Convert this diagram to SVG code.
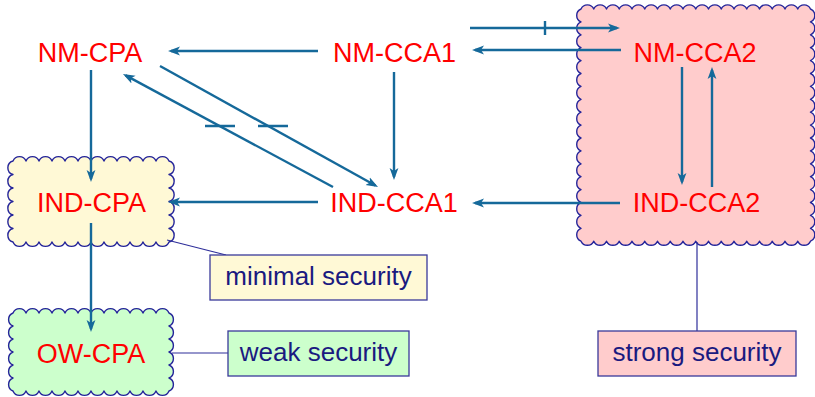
<svg xmlns="http://www.w3.org/2000/svg" width="815" height="397" viewBox="0 0 815 397">
  <style>
    .node { font-family: "Liberation Sans", Arial, sans-serif; font-size: 27px; fill: #ff0000; text-anchor: middle; }
    .label { font-family: "Liberation Sans", Arial, sans-serif; font-size: 26px; fill: #1a1a80; text-anchor: middle; }
    .cloud { stroke: #25259a; stroke-width: 1.4; stroke-linejoin: round; }
    .box { stroke: #3a3a9a; stroke-width: 1.3; }
    .arrow { stroke: #15699a; stroke-width: 2.4; fill: none; marker-end: url(#head); }
    .tick { stroke: #15699a; stroke-width: 2.4; fill: none; }
    .thin { stroke: #2e2e9a; stroke-width: 1.2; fill: none; }
    .yellow { fill: #fff9d6; }
    .green { fill: #ccffcc; }
    .pink { fill: #ffcccc; }
  </style>
  <defs>
    <marker id="head" markerUnits="userSpaceOnUse" viewBox="0 0 12 10" refX="9" refY="5" markerWidth="12" markerHeight="10" orient="auto">
      <path d="M0,0.6 L12,5 L0,9.4 L3,5 Z" fill="#15699a"/>
    </marker>
  </defs>

  <!-- scalloped regions -->
  <g id="region-strong">
    <path class="cloud pink" d="M581,9
      a7 7 0 0 1 12.75 0 a7 7 0 0 1 12.75 0 a7 7 0 0 1 12.75 0 a7 7 0 0 1 12.75 0 a7 7 0 0 1 12.75 0 a7 7 0 0 1 12.75 0
      a7 7 0 0 1 12.75 0 a7 7 0 0 1 12.75 0 a7 7 0 0 1 12.75 0 a7 7 0 0 1 12.75 0 a7 7 0 0 1 12.75 0 a7 7 0 0 1 12.75 0
      a7 7 0 0 1 12.75 0 a7 7 0 0 1 12.75 0 a7 7 0 0 1 12.75 0 a7 7 0 0 1 12.75 0 a7 7 0 0 1 12.75 0 a7 7 0 0 1 12.75 0
      a7 7 0 0 1 0 12.9 a7 7 0 0 1 0 12.9 a7 7 0 0 1 0 12.9 a7 7 0 0 1 0 12.9 a7 7 0 0 1 0 12.9 a7 7 0 0 1 0 12.9
      a7 7 0 0 1 0 12.9 a7 7 0 0 1 0 12.9 a7 7 0 0 1 0 12.9 a7 7 0 0 1 0 12.9 a7 7 0 0 1 0 12.9 a7 7 0 0 1 0 12.9
      a7 7 0 0 1 0 12.9 a7 7 0 0 1 0 12.9 a7 7 0 0 1 0 12.9 a7 7 0 0 1 0 12.9 a7 7 0 0 1 0 12.9 a7 7 0 0 1 0 12.9
      a7 7 0 0 1 -12.75 0 a7 7 0 0 1 -12.75 0 a7 7 0 0 1 -12.75 0 a7 7 0 0 1 -12.75 0 a7 7 0 0 1 -12.75 0 a7 7 0 0 1 -12.75 0
      a7 7 0 0 1 -12.75 0 a7 7 0 0 1 -12.75 0 a7 7 0 0 1 -12.75 0 a7 7 0 0 1 -12.75 0 a7 7 0 0 1 -12.75 0 a7 7 0 0 1 -12.75 0
      a7 7 0 0 1 -12.75 0 a7 7 0 0 1 -12.75 0 a7 7 0 0 1 -12.75 0 a7 7 0 0 1 -12.75 0 a7 7 0 0 1 -12.75 0 a7 7 0 0 1 -12.75 0
      a7 7 0 0 1 0 -12.9 a7 7 0 0 1 0 -12.9 a7 7 0 0 1 0 -12.9 a7 7 0 0 1 0 -12.9 a7 7 0 0 1 0 -12.9 a7 7 0 0 1 0 -12.9
      a7 7 0 0 1 0 -12.9 a7 7 0 0 1 0 -12.9 a7 7 0 0 1 0 -12.9 a7 7 0 0 1 0 -12.9 a7 7 0 0 1 0 -12.9 a7 7 0 0 1 0 -12.9
      a7 7 0 0 1 0 -12.9 a7 7 0 0 1 0 -12.9 a7 7 0 0 1 0 -12.9 a7 7 0 0 1 0 -12.9 a7 7 0 0 1 0 -12.9 a7 7 0 0 1 0 -12.9 Z"/>
  </g>

  <g id="region-minimal">
    <path class="cloud yellow" d="M13,161
      a7 7 0 0 1 13 0 a7 7 0 0 1 13 0 a7 7 0 0 1 13 0 a7 7 0 0 1 13 0 a7 7 0 0 1 13 0 a7 7 0 0 1 13 0
      a7 7 0 0 1 13 0 a7 7 0 0 1 13 0 a7 7 0 0 1 13 0 a7 7 0 0 1 13 0 a7 7 0 0 1 13 0 a7 7 0 0 1 13 0
      a7 7 0 0 1 0 13.5 a7 7 0 0 1 0 13.5 a7 7 0 0 1 0 13.5 a7 7 0 0 1 0 13.5 a7 7 0 0 1 0 13.5 a7 7 0 0 1 0 13.5
      a7 7 0 0 1 -13 0 a7 7 0 0 1 -13 0 a7 7 0 0 1 -13 0 a7 7 0 0 1 -13 0 a7 7 0 0 1 -13 0 a7 7 0 0 1 -13 0
      a7 7 0 0 1 -13 0 a7 7 0 0 1 -13 0 a7 7 0 0 1 -13 0 a7 7 0 0 1 -13 0 a7 7 0 0 1 -13 0 a7 7 0 0 1 -13 0
      a7 7 0 0 1 0 -13.5 a7 7 0 0 1 0 -13.5 a7 7 0 0 1 0 -13.5 a7 7 0 0 1 0 -13.5 a7 7 0 0 1 0 -13.5 a7 7 0 0 1 0 -13.5 Z"/>
  </g>

  <g id="region-weak">
    <path class="cloud green" d="M13,313
      a7 7 0 0 1 13 0 a7 7 0 0 1 13 0 a7 7 0 0 1 13 0 a7 7 0 0 1 13 0 a7 7 0 0 1 13 0 a7 7 0 0 1 13 0
      a7 7 0 0 1 13 0 a7 7 0 0 1 13 0 a7 7 0 0 1 13 0 a7 7 0 0 1 13 0 a7 7 0 0 1 13 0 a7 7 0 0 1 13 0
      a7 7 0 0 1 0 13 a7 7 0 0 1 0 13 a7 7 0 0 1 0 13 a7 7 0 0 1 0 13 a7 7 0 0 1 0 13 a7 7 0 0 1 0 13
      a7 7 0 0 1 -13 0 a7 7 0 0 1 -13 0 a7 7 0 0 1 -13 0 a7 7 0 0 1 -13 0 a7 7 0 0 1 -13 0 a7 7 0 0 1 -13 0
      a7 7 0 0 1 -13 0 a7 7 0 0 1 -13 0 a7 7 0 0 1 -13 0 a7 7 0 0 1 -13 0 a7 7 0 0 1 -13 0 a7 7 0 0 1 -13 0
      a7 7 0 0 1 0 -13 a7 7 0 0 1 0 -13 a7 7 0 0 1 0 -13 a7 7 0 0 1 0 -13 a7 7 0 0 1 0 -13 a7 7 0 0 1 0 -13 Z"/>
  </g>

  <!-- connectors -->
  <g id="connectors">
    <path class="arrow" d="M318,51 H171"/>
    <path class="arrow" d="M470,28 H617"/>
    <path class="tick" d="M545,21 V35"/>
    <path class="arrow" d="M621,50 H475"/>
    <path class="arrow" d="M91,70 V179"/>
    <path class="arrow" d="M91,223 V329"/>
    <path class="arrow" d="M318,202 H171"/>
    <path class="arrow" d="M394,72 V177"/>
    <path class="arrow" d="M160,66 L375.4,185.5"/>
    <path class="arrow" d="M333,187 L125.6,75.4"/>
    <path class="tick" d="M205,126 H235 M258,126 H288"/>
    <path class="arrow" d="M620,203 H475"/>
    <path class="arrow" d="M682,67 V182"/>
    <path class="arrow" d="M712,187 V70"/>
    <!-- annotation leaders -->
    <path class="thin" d="M167,240 L226,255"/>
    <path class="thin" d="M172,353 H228"/>
    <path class="thin" d="M697,242 V331"/>
  </g>

  <!-- scheme nodes -->
  <g id="nm-cpa"><text class="node" x="90" y="62">NM-CPA</text></g>
  <g id="nm-cca1"><text class="node" x="394.5" y="62">NM-CCA1</text></g>
  <g id="nm-cca2"><text class="node" x="695" y="62">NM-CCA2</text></g>
  <g id="ind-cpa"><text class="node" x="91.5" y="212">IND-CPA</text></g>
  <g id="ind-cca1"><text class="node" x="394" y="212">IND-CCA1</text></g>
  <g id="ind-cca2"><text class="node" x="696.5" y="212">IND-CCA2</text></g>
  <g id="ow-cpa"><text class="node" x="91" y="363">OW-CPA</text></g>

  <!-- annotations -->
  <g id="minimal-security">
    <rect class="box yellow" x="210" y="255" width="217" height="45"/>
    <text class="label" x="318.5" y="285">minimal security</text>
  </g>
  <g id="weak-security">
    <rect class="box green" x="228" y="331" width="181" height="45"/>
    <text class="label" x="318.5" y="361">weak security</text>
  </g>
  <g id="strong-security">
    <rect class="box pink" x="598" y="331" width="198" height="45"/>
    <text class="label" x="697" y="361">strong security</text>
  </g>
</svg>
